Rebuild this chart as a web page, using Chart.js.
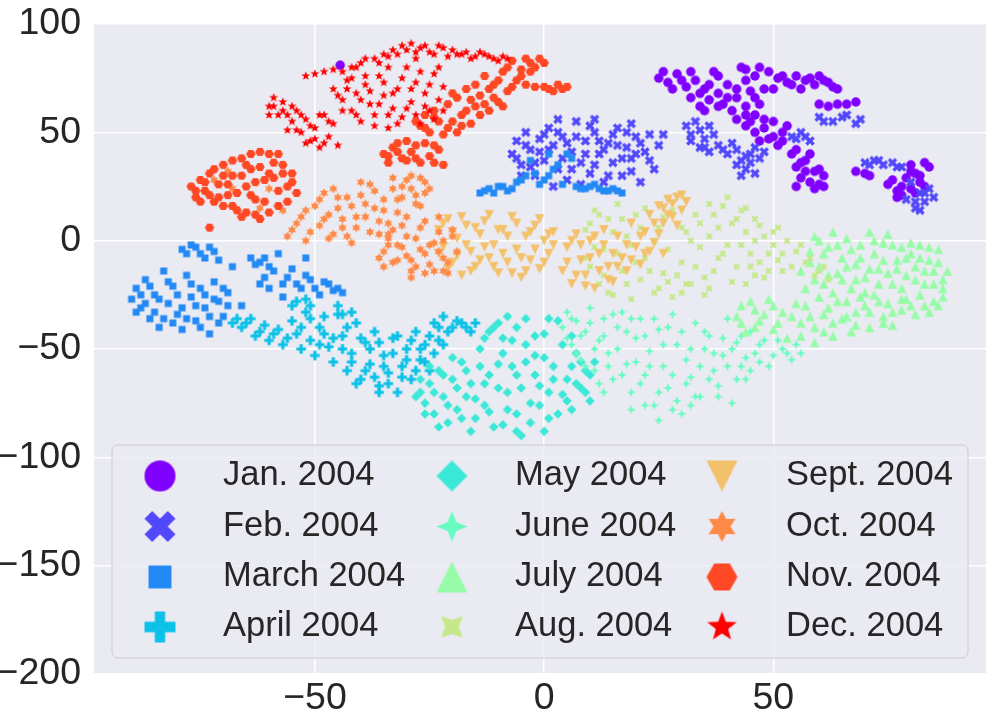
<!DOCTYPE html>
<html>
<head>
<meta charset="utf-8">
<script src="https://cdn.jsdelivr.net/npm/chart.js@4.4.0/dist/chart.umd.min.js"></script>
<style>
  html, body { margin: 0; padding: 0; background: #ffffff; }
  #wrap { width: 992px; height: 718px; }
</style>
</head>
<body>
<div id="wrap"><canvas id="tsne" width="992" height="718"></canvas></div>
<script>
// months and their rainbow colours
const months = ['Jan. 2004', 'Feb. 2004', 'March 2004', 'April 2004', 'May 2004', 'June 2004',
    'July 2004', 'Aug. 2004', 'Sept. 2004', 'Oct. 2004', 'Nov. 2004', 'Dec. 2004'];
const monthColors = ['#8000FF', '#5148FC', '#238AF5', '#0CC1E8', '#3AE8D7', '#68FCC1',
    '#97FCA7', '#C5E88A', '#F3C16A', '#FF8A48', '#FF4824', '#FF0000'];

const xTicks = [-50, 0, 50];
const yTicks = [-200, -150, -100, -50, 0, 50, 100];

// t-SNE points, [x, y]
const jan = [[25,75],[27,73],[29,77],[31,71],[32,66],[33,74],[34,62],[35,70],[36,65],[37,78],[38,68],[39,63],[40,72],[41,60],[42,66],[43,80],[44,74],[45,69],[46,76],[47,63],[48,70],[49,78],[51,75],[53,73],[55,76],[57,74],[59,72],[61,74],[63,71],[60,63],[62,62],[64,63],[66,63],[68,64],[42,56],[44,53],[46,58],[48,52],[50,55],[52,50],[49,47],[47,46],[51,44],[53,53],[54,40],[55,34],[56,29],[57,37],[58,27],[59,32],[60,26],[61,30],[55,25],[68,32],[70,31],[75,26],[77,23],[79,29],[80,24],[81,31],[82,27],[83,36],[84,34],[78,21],[80,35],[-44.5,81],
    [26,78],[28,70],[30,74],[32,78],[34,68],[36,72],[38,76],[40,66],[42,70],[44,62],[46,66],[38,62],[35,60],[44,79],[47,80],[50,70],[52,76],[54,72],[56,70],[58,75],[60,76],[62,73],[64,70],[44,58],[46,50],[48,56],[50,48],[52,46],[45,55],[55,42],[56,36],[57,32],[58,40],[60,33],[61,25],[59,24],[71,30],[76,28],[78,25],[80,32],[82,30],[83,25],[81,22],[77,20]];
const feb = [[-7,40],[-6,46],[-5,35],[-4,50],[-3,42],[-2,30],[-1,47],[0,37],[1,52],[2,44],[3,33],[4,48],[5,28],[6,41],[7,55],[8,36],[9,46],[10,31],[11,50],[12,40],[13,27],[14,45],[15,36],[16,52],[17,30],[18,43],[19,38],[20,48],[21,27],[22,41],[24,33],[26,49],[-5,30],[2,25],[8,26],
    [31,53],[32,49],[33,55],[34,51],[35,47],[36,53],[34,43],[36,41],[38,44],[40,40],[42,42],[44,39],[46,43],[48,41],[42,35],[44,33],[46,31],[45,36],[54,48],[56,50],[58,46],[60,57],[63,55],[66,58],[69,56],
    [70,36],[72,37],[74,35],[76,36],[78,34],[80,27],[82,22],[83,18],[81,15],[84,24],[85,20],[79,19],
    [-6,38],[-4,44],[-2,36],[0,49],[1,42],[3,50],[4,38],[5,45],[6,33],[7,48],[9,40],[10,53],[11,35],[12,46],[13,42],[14,30],[15,49],[16,44],[17,38],[18,50],[19,32],[20,40],[21,45],[23,37],[23,49],[25,44],[-3,34],[-1,41],[3,56],[11,56],[19,54],
    [32,46],[35,43],[37,49],[39,42],[41,45],[43,37],[45,40],[47,38],[43,30],[55,47],[57,48],[61,55],[65,57],[68,54],[71,35],[73,37],[77,34],[81,18],[83,22],[82,14]];
const march = [[-90,-27],[-89,-22],[-88,-31],[-87,-18],[-86,-36],[-85,-25],[-84,-40],[-83,-14],[-82,-29],[-81,-21],[-80,-34],[-79,-41],[-78,-16],[-77,-26],[-76,-37],[-75,-22],[-74,-31],[-73,-43],[-72,-19],[-71,-28],[-70,-35],[-69,-24],[-79,-4],[-77,-2],[-75,-6],[-73,-3],[-71,-9],[-68,-12],[-66,-30],[-64,-8],[-62,-10],[-60,-12],[-58,-6],[-56,-17],[-54,-20],[-52,-16],[-50,-22],[-48,-19],[-46,-23],[-44,-24],[-57,-26],[-61,-17],[-52,-8],
    [-14,22],[-12,24],[-10,25],[-8,23],[-6,27],[-4,30],[-2,31],[0,28],[2,33],[4,26],[6,38],[8,24],[10,25],[12,24],[14,23],[16,23],[-3,37],[1,40],
    [-89,-33],[-88,-25],[-87,-29],[-86,-21],[-85,-33],[-84,-27],[-83,-36],[-82,-19],[-81,-38],[-80,-25],[-79,-31],[-78,-36],[-77,-20],[-76,-30],[-75,-40],[-74,-25],[-73,-35],[-72,-27],[-71,-38],[-70,-22],[-69,-30],[-78,-6],[-76,-3],[-74,-8],[-72,-5],[-63,-11],[-61,-8],[-59,-14],[-57,-20],[-55,-13],[-53,-22],[-51,-18],[-49,-25],[-47,-20],[-45,-22],[-62,-20],[-60,-22],
    [-13,23],[-11,22],[-9,25],[-7,24],[-5,28],[-1,26],[1,30],[3,35],[5,40],[7,25],[9,24],[11,26],[13,23],[15,24],[17,22]];
const april = [[-68,-38],[-66,-40],[-64,-36],[-63,-44],[-61,-39],[-60,-46],[-58,-41],[-57,-48],[-55,-30],[-54,-43],[-53,-50],[-52,-33],[-51,-46],[-50,-53],[-49,-40],[-48,-35],[-47,-49],[-46,-56],[-45,-30],[-44,-44],[-43,-60],[-42,-52],[-41,-38],[-40,-64],[-39,-47],[-38,-57],[-37,-42],[-36,-67],[-35,-53],[-34,-61],[-33,-45],[-32,-70],[-31,-58],[-30,-50],[-29,-64],[-28,-42],[-27,-55],[-26,-48],[-25,-60],[-24,-38],[-23,-46],[-22,-35],[-21,-42],[-19,-37],[-17,-40],[-15,-38],[-45,-34],[-41,-66],[-36,-70],
    [-67,-36],[-65,-38],[-62,-42],[-59,-43],[-56,-45],[-55,-37],[-53,-40],[-51,-36],[-49,-48],[-48,-43],[-46,-45],[-44,-50],[-43,-40],[-42,-56],[-40,-45],[-39,-60],[-38,-50],[-37,-63],[-36,-47],[-35,-58],[-34,-66],[-33,-52],[-32,-44],[-31,-63],[-30,-55],[-29,-46],[-28,-60],[-27,-50],[-26,-56],[-25,-44],[-24,-52],[-23,-40],[-22,-48],[-20,-40],[-18,-38],[-16,-42],[-54,-28],[-52,-27],[-51,-30],[-44,-34],[-42,-33]];
const may = [[-28,-72],[-27,-64],[-26,-80],[-25,-58],[-24,-70],[-23,-86],[-22,-62],[-21,-76],[-20,-54],[-19,-68],[-18,-82],[-17,-60],[-16,-88],[-15,-73],[-14,-50],[-13,-66],[-12,-79],[-11,-40],[-10,-57],[-9,-85],[-8,-70],[-7,-46],[-6,-62],[-5,-90],[-4,-36],[-3,-75],[-2,-53],[-1,-67],[0,-43],[1,-82],[2,-58],[3,-37],[4,-71],[5,-64],[6,-78],[7,-52],[8,-68],[9,-60],[10,-74],[11,-56],[-12,-42],[-8,-35],[-4,-48],[0,-88],[-6,-80],[6,-44],
    [-27,-70],[-26,-75],[-25,-66],[-24,-80],[-23,-60],[-22,-72],[-21,-84],[-20,-64],[-19,-78],[-18,-56],[-17,-72],[-16,-66],[-15,-82],[-14,-58],[-13,-76],[-12,-62],[-11,-86],[-10,-68],[-9,-52],[-8,-78],[-7,-58],[-6,-88],[-5,-68],[-4,-56],[-3,-84],[-2,-62],[-1,-76],[0,-54],[1,-70],[2,-64],[3,-80],[4,-48],[5,-74],[6,-58],[7,-66],[8,-56],[9,-70],[10,-62],[-10,-38],[-9,-45],[-6,-40],[-2,-44],[1,-36],[-13,-45]];
const june = [[4,-40],[5,-33],[6,-48],[7,-37],[8,-55],[9,-42],[10,-31],[11,-60],[12,-46],[13,-36],[14,-52],[15,-64],[16,-40],[17,-33],[18,-57],[19,-70],[20,-45],[21,-36],[22,-62],[23,-51],[24,-76],[25,-41],[26,-58],[27,-68],[28,-34],[29,-48],[30,-80],[31,-55],[32,-63],[33,-38],[34,-72],[35,-50],[36,-44],[37,-60],[38,-67],[39,-53],[40,-36],[41,-75],[42,-47],[43,-58],[44,-64],[45,-42],[46,-52],[47,-56],[48,-46],[50,-53],[52,-50],[54,-55],[56,-52],[25,-83],[19,-78],[13,-70],
    [5,-45],[6,-36],[7,-52],[8,-44],[9,-58],[10,-38],[11,-50],[12,-66],[13,-44],[14,-58],[15,-34],[16,-50],[17,-62],[18,-42],[19,-36],[20,-56],[21,-66],[22,-44],[23,-58],[24,-36],[25,-70],[26,-48],[27,-40],[28,-62],[29,-74],[30,-42],[31,-66],[32,-50],[33,-72],[34,-58],[35,-42],[36,-64],[37,-52],[38,-72],[39,-45],[40,-58],[41,-50],[42,-64],[43,-44],[44,-54],[45,-60],[47,-48],[49,-58],[51,-46],[53,-52],[55,-48],[22,-76],[28,-78],[32,-76]];
const july = [[42,-35],[43,-30],[44,-42],[46,-32],[47,-37],[49,-27],[50,-41],[52,-33],[53,-45],[55,-29],[56,-38],[58,-35],[59,-47],[60,-26],[61,-42],[62,-31],[63,-38],[65,-36],[66,-28],[67,-42],[68,-33],[70,-30],[71,-40],[72,-25],[74,-35],[75,-29],[76,-39],[78,-32],[79,-27],[81,-34],[83,-30],[85,-28],[87,-26],
    [58,-5],[59,2],[60,-12],[61,-20],[62,-3],[63,4],[64,-15],[65,-8],[66,1],[67,-22],[68,-11],[69,-2],[70,-17],[71,4],[72,-6],[73,-13],[74,-1],[75,3],[76,-20],[77,-9],[78,-3],[79,-16],[80,-6],[81,-12],[82,-2],[83,-20],[84,-9],[85,-14],[86,-4],[87,-18],[56,-14],[57,-22],
    [43,-38],[45,-28],[46,-40],[48,-34],[50,-30],[51,-38],[54,-35],[56,-44],[57,-30],[59,-40],[61,-34],[63,-44],[64,-28],[66,-35],[68,-39],[69,-26],[71,-33],[73,-28],[74,-38],[76,-33],[78,-27],[80,-30],[82,-25],[84,-33],[86,-30],
    [58,-10],[59,-18],[60,0],[61,-6],[62,-16],[63,-24],[64,-2],[65,-18],[66,-12],[67,-4],[68,-18],[69,-8],[70,-24],[71,-13],[72,0],[73,-20],[74,-9],[75,-15],[76,-2],[77,-13],[78,-22],[79,-8],[80,-1],[81,-18],[82,-8],[83,-14],[84,-3],[85,-20],[86,-10],[87,-22],[88,-14]];
const aug = [[9,5],[10,-12],[11,14],[12,-20],[13,-4],[14,10],[15,-25],[16,17],[17,-14],[18,2],[19,-27],[20,12],[21,-18],[22,-8],[24,-24],[25,6],[26,-15],[28,-26],[30,-10],[31,4],[32,-20],[33,12],[34,-3],[35,-25],[36,17],[37,-14],[38,6],[39,-6],[40,20],[41,-19],[42,10],[43,-2],[44,15],[45,-12],[46,0],[47,7],[48,-17],[49,-6],[50,4],[51,-9],[52,-14],[53,0],[55,-5],[57,-10],[59,-16],[61,-12],[36,-22],[27,-19],[30,-24],[44,-20],
    [9,-8],[10,8],[11,-3],[12,12],[13,-16],[14,-24],[15,4],[16,-6],[17,10],[18,-20],[19,-2],[20,-10],[21,6],[22,15],[23,-14],[24,0],[25,-22],[26,11],[27,-4],[28,14],[29,-16],[30,6],[31,-20],[32,0],[33,-12],[34,8],[35,-17],[36,2],[37,12],[38,-8],[39,16],[40,-2],[41,8],[42,-12],[43,14],[44,4],[45,-6],[46,10],[47,-10],[48,2],[49,-14],[50,-2],[51,6],[52,-6],[54,-12],[56,-2],[58,-8],[60,-14],[62,-18],[46,-16]];
const sept = [[-23,5],[-22,-3],[-21,10],[-20,-10],[-19,1],[-18,-16],[-17,7],[-16,-5],[-15,-12],[-14,3],[-13,9],[-12,-8],[-11,-2],[-10,-15],[-9,5],[-8,-10],[-7,11],[-6,-4],[-5,-17],[-4,2],[-3,-9],[-2,7],[-1,-13],[0,0],[1,-6],[2,4],
    [4,-14],[5,-3],[6,-20],[7,3],[8,-9],[9,-16],[10,0],[11,-22],[12,-6],[13,5],[14,-12],[15,-19],[16,2],[17,-8],[18,-14],[19,8],[20,-3],[21,-11],[22,4],[23,12],[24,-1],[25,16],[26,8],[27,19],[28,11],[29,20],[30,14],[31,18],[26,-6],[23,-5],
    [-23,-6],[-22,8],[-21,-13],[-20,4],[-19,-7],[-18,11],[-17,-2],[-16,-14],[-15,6],[-14,-9],[-13,-3],[-12,12],[-11,-12],[-10,5],[-9,-6],[-8,2],[-7,-15],[-6,8],[-5,-8],[-4,-14],[-3,4],[-2,-4],[-1,10],[0,-10],[1,3],[2,-2],[5,-10],[6,0],[7,-16],[8,-2],[9,-21],[10,-8],[11,2],[12,-14],[13,-2],[14,-18],[15,-6],[16,-12],[18,-2],[19,-9],[21,2],[22,-6],[24,8],[25,3],[26,15],[27,12],[28,17],[29,7],[30,21]];
const oct = [[-56,2],[-54,8],[-52,14],[-51,4],[-49,19],[-48,10],[-47,1],[-46,24],[-45,15],[-44,6],[-43,20],[-42,-1],[-41,11],[-40,27],[-39,17],[-38,4],[-37,23],[-36,9],[-35,14],[-34,1],[-33,29],[-32,19],[-31,25],[-30,11],[-29,30],[-28,21],[-27,16],[-26,27],[-25,24],
    [-35,-5],[-34,3],[-33,-10],[-32,-2],[-31,7],[-30,-7],[-29,-14],[-28,1],[-27,-4],[-26,9],[-25,-11],[-24,-1],[-23,4],[-22,-8],[-21,-15],[-20,2],[-19,-5],[-29,-17],[-26,-15],[-23,11],
    [-72,28],[-69,32],[-68,24],[-62,15],[-60,24],[-57,14],
    [-55,5],[-53,11],[-52,0],[-50,16],[-49,7],[-48,22],[-47,12],[-46,3],[-45,20],[-44,10],[-43,2],[-42,16],[-41,6],[-40,21],[-39,11],[-38,26],[-37,15],[-36,3],[-35,19],[-34,8],[-33,24],[-32,13],[-31,20],[-30,28],[-29,24],[-28,17],[-27,29],[-26,22],
    [-34,-2],[-33,5],[-32,-9],[-31,-3],[-30,2],[-29,-9],[-28,-12],[-27,6],[-26,-6],[-25,-2],[-24,-14],[-23,-5],[-22,0],[-21,-10],[-20,5],[-22,-14],[-35,-12],[-36,-8]];
const nov = [[-27,53],[-25,50],[-23,55],[-21,52],[-19,50],[-16,54],[-24,60],[-21,63],[-18,58],[-15,62],[-12,60],[-10,64],[-20,68],[-17,70],[-14,67],[-11,72],[-8,69],[-6,74],[-13,76],[-9,78],[-5,79],[-3,82],[-1,84],[-7,83],[-4,72],[-2,71],[1,70],[3,72],[5,71],[-26,58],
    [-35,40],[-33,43],[-31,38],[-29,41],[-27,36],[-25,39],[-23,42],[-30,46],[-26,45],[-22,35],[-34,36],
    [-77,25],[-76,20],[-75,28],[-74,23],[-73,31],[-72,18],[-71,26],[-70,35],[-69,21],[-68,30],[-67,14],[-66,38],[-65,25],[-64,33],[-63,19],[-62,41],[-61,28],[-60,13],[-59,36],[-58,23],[-57,31],[-56,18],[-55,27],[-54,22],[-66,11],[-62,10],[-70,16],[-73,6],[-64,40],[-58,40],
    [-28,55],[-26,52],[-24,57],[-22,49],[-20,55],[-18,53],[-17,60],[-16,65],[-14,58],[-13,63],[-11,66],[-9,62],[-19,66],[-15,72],[-12,70],[-10,74],[-7,71],[-5,76],[-3,78],[-2,80],[0,82],[-8,80],[0,71],[2,69],[4,70],[-4,84],
    [-34,39],[-32,41],[-30,37],[-28,44],[-28,38],[-24,36],[-24,44],[-32,45],
    [-76,23],[-75,18],[-74,27],[-73,21],[-72,33],[-71,20],[-70,30],[-69,26],[-68,37],[-67,22],[-66,30],[-65,35],[-64,21],[-63,27],[-62,34],[-61,18],[-60,40],[-59,29],[-58,16],[-57,35],[-56,25],[-55,31],[-60,31],[-65,13],[-63,12],[-68,16]];
const dec = [[-60,62],[-58,58],[-57,64],[-55,55],[-54,60],[-53,50],[-52,56],[-51,46],[-50,52],[-49,43],[-48,58],[-47,48],[-56,51],[-59,66],[-46,54],[-45,44],
    [-46,70],[-44,65],[-43,74],[-42,60],[-41,68],[-40,55],[-39,72],[-38,63],[-37,58],[-36,76],[-35,67],[-34,52],[-33,61],[-32,70],[-31,57],[-30,80],[-29,64],[-28,73],[-27,54],[-26,68],[-25,60],[-24,77],[-23,65],[-22,71],
    [-44,78],[-42,80],[-40,82],[-37,84],[-35,86],[-33,88],[-31,90],[-29,91],[-27,89],[-25,87],[-23,90],[-21,85],[-20,88],[-34,80],[-28,84],
    [-52,76],[-50,77],[-48,78],[-46,79],[-18,86],[-16,84],[-14,87],[-12,85],[-10,83],[-8,84],
    [-60,58],[-59,62],[-57,60],[-56,58],[-55,62],[-54,51],[-53,58],[-52,45],[-51,53],[-50,47],[-49,58],[-48,45],[-47,55],
    [-45,67],[-44,60],[-43,70],[-42,75],[-41,58],[-40,65],[-39,76],[-38,69],[-37,53],[-36,63],[-35,73],[-34,58],[-33,68],[-32,54],[-31,75],[-30,61],[-29,70],[-28,58],[-27,78],[-26,62],[-25,72],[-24,56],[-23,80],[-22,60],
    [-41,80],[-39,84],[-36,82],[-34,85],[-32,86],[-30,88],[-28,87],[-26,90],[-24,86],[-22,89],[-19,86],[-17,87],[-15,85],[-13,86],[-11,84],[-9,85]];

const series = [jan, feb, march, april, may, june, july, aug, sept, oct, nov, dec];
const markerShapes = ['circle', 'xfill', 'square', 'plus', 'diamond', 'star4', 'triUp', 'star4r', 'triDown', 'star6', 'hexagon', 'star5'];

const TEXT = '#262626';
const FONT = "'Liberation Sans', Arial, sans-serif";

function starPoints(n, outer, inner, rot) {
    const pts = [];
    for (let k = 0; k < n * 2; k++) {
        const rad = k % 2 === 0 ? outer : inner;
        const a = -Math.PI / 2 + rot + k * Math.PI / n;
        pts.push([rad * Math.cos(a), rad * Math.sin(a)]);
    }
    return pts;
}

function makeMarker(shape, color, size) {
    const c = document.createElement('canvas');
    const dim = Math.ceil(size) + 4;
    c.width = dim;
    c.height = dim;
    const g = c.getContext('2d');
    const m = dim / 2;
    const r = size / 2;
    let pts = null;
    g.fillStyle = color;
    g.beginPath();
    switch (shape) {
        case 'circle':
            g.arc(m, m, r, 0, Math.PI * 2);
            break;
        case 'square':
            g.rect(m - r * 0.74, m - r * 0.74, r * 1.48, r * 1.48);
            break;
        case 'diamond':
            pts = [[0, -r], [r, 0], [0, r], [-r, 0]];
            break;
        case 'triUp':
            pts = [[0, -r], [r, r], [-r, r]];
            break;
        case 'triDown':
            pts = [[0, r], [r, -r], [-r, -r]];
            break;
        case 'star4':
            pts = starPoints(4, r, r * 0.4, 0);
            break;
        case 'star4r':
            pts = starPoints(4, r, r * 0.45, Math.PI / 4);
            break;
        case 'star6':
            pts = starPoints(6, r, r * 0.55, 0);
            break;
        case 'star5':
            pts = starPoints(5, r, r * 0.42, 0);
            break;
        case 'hexagon':
            pts = [];
            for (let k = 0; k < 6; k++) {
                pts.push([r * Math.cos(k * Math.PI / 3), r * Math.sin(k * Math.PI / 3)]);
            }
            break;
        case 'plus':
        case 'xfill': {
            const L = shape === 'plus' ? r : r * 1.06;
            const w = L / 3;
            const base = [[-w, -L], [w, -L], [w, -w], [L, -w], [L, w], [w, w], [w, L], [-w, L], [-w, w], [-L, w], [-L, -w], [-w, -w]];
            const t = shape === 'plus' ? 0 : Math.PI / 4;
            pts = base.map(p => [p[0] * Math.cos(t) - p[1] * Math.sin(t), p[0] * Math.sin(t) + p[1] * Math.cos(t)]);
            break;
        }
    }
    if (pts) {
        pts.forEach((p, k) => {
            if (k === 0) g.moveTo(m + p[0], m + p[1]);
            else g.lineTo(m + p[0], m + p[1]);
        });
        g.closePath();
    }
    g.fill();
    return c;
}

const pointMarkers = markerShapes.map((s, i) => makeMarker(s, monthColors[i], 9.5));
const legendMarkers = markerShapes.map((s, i) => makeMarker(s, monthColors[i], 31));

// axes background
const backdrop = {
    id: 'backdrop',
    beforeDraw(chart) {
        const { ctx, chartArea: a } = chart;
        ctx.save();
        ctx.fillStyle = '#EAEAF2';
        ctx.fillRect(a.left, a.top, a.right - a.left, a.bottom - a.top);
        ctx.restore();
    }
};

// legend: 3 columns x 4 rows, filled column by column
const gridLegend = {
    id: 'gridLegend',
    afterDatasetsDraw(chart) {
        const ctx = chart.ctx;
        const box = { left: 112, top: 445, right: 968, bottom: 658 };
        const rowY = [476, 526.5, 577, 627];
        const markX = [160, 452, 722];
        const textX = [223, 515, 786];
        ctx.save();
        ctx.beginPath();
        ctx.roundRect(box.left, box.top, box.right - box.left, box.bottom - box.top, 6);
        ctx.fillStyle = 'rgba(234,234,242,0.8)';
        ctx.fill();
        ctx.lineWidth = 1;
        ctx.strokeStyle = '#cccccc';
        ctx.stroke();
        ctx.font = '34.5px ' + FONT;
        ctx.fillStyle = TEXT;
        ctx.textBaseline = 'alphabetic';
        ctx.textAlign = 'left';
        months.forEach((name, i) => {
            const col = Math.floor(i / 4);
            const row = i % 4;
            const mk = legendMarkers[i];
            ctx.drawImage(mk, markX[col] - mk.width / 2, rowY[row] - mk.height / 2);
            ctx.fillText(name, textX[col], rowY[row] + 9);
        });
        ctx.restore();
    }
};

const minusSign = v => String(v).replace('-', '\u2212');

const datasets = series.map((pts, i) => ({
    label: months[i],
    data: pts.map(p => ({ x: p[0], y: p[1] })),
    pointStyle: pointMarkers[i],
    pointRadius: 4,
    backgroundColor: monthColors[i],
    borderColor: monthColors[i],
    order: 11 - i
}));

new Chart(document.getElementById('tsne'), {
    type: 'scatter',
    data: { datasets },
    plugins: [backdrop, gridLegend],
    options: {
        responsive: false,
        animation: false,
        events: [],
        layout: { padding: { top: 24, right: 6, left: 0, bottom: 0 } },
        plugins: {
            legend: { display: false },
            tooltip: { enabled: false }
        },
        scales: {
            x: {
                type: 'linear',
                min: -98.2,
                max: 96.4,
                afterBuildTicks: scale => { scale.ticks = xTicks.map(v => ({ value: v })); },
                afterFit: scale => {
                    scale.height = 44;
                    scale.paddingLeft = 0;
                    scale.paddingRight = 0;
                },
                border: { display: false },
                grid: { color: '#ffffff', lineWidth: 1.5, drawTicks: false },
                ticks: {
                    font: { family: FONT, size: 37.5 },
                    color: TEXT,
                    padding: 2,
                    maxRotation: 0,
                    autoSkip: false,
                    callback: minusSign
                }
            },
            y: {
                type: 'linear',
                min: -200,
                max: 100,
                afterBuildTicks: scale => { scale.ticks = yTicks.map(v => ({ value: v })); },
                afterFit: scale => {
                    scale.width = 94;
                    scale.paddingTop = 0;
                    scale.paddingBottom = 0;
                },
                border: { display: false },
                grid: { color: '#ffffff', lineWidth: 1.5, drawTicks: false },
                ticks: {
                    font: { family: FONT, size: 37.5 },
                    color: TEXT,
                    padding: 13,
                    autoSkip: false,
                    callback: minusSign
                }
            }
        }
    }
});
</script>
</body>
</html>
